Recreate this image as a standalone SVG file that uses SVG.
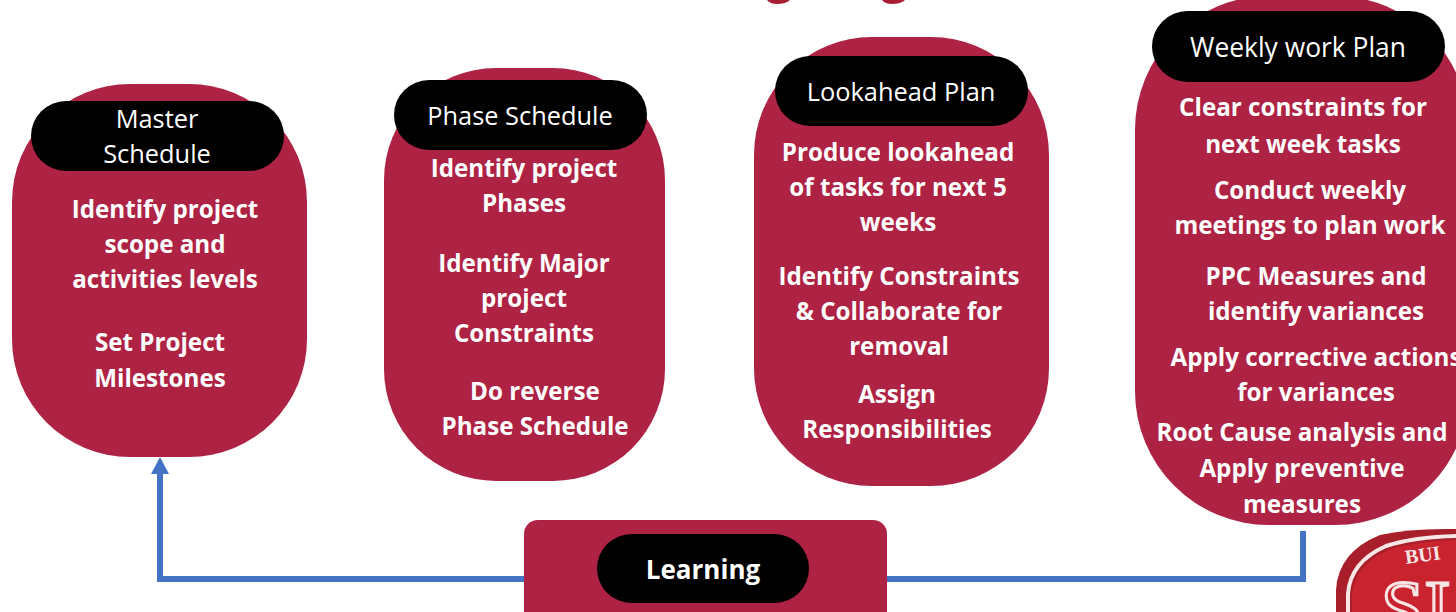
<svg xmlns="http://www.w3.org/2000/svg" width="1456" height="612" viewBox="0 0 1456 612">
<style>
.b{fill:#ae2244}
.p{fill:#000}
.t{font-family:"Open Sans","Noto Sans",sans-serif;font-size:24.2px;font-weight:700;fill:#fff;text-anchor:middle}
.h{font-family:"Open Sans","Noto Sans",sans-serif;font-size:25.4px;fill:#fff;text-anchor:middle}
.c{fill:none;stroke:#4472c4;stroke-width:6}
</style>
<rect width="1456" height="612" fill="#fff"/>
<g id="title-fragments" fill="#a81f35">
<path d="M767 0H790Q786 4 777 4Q770 4 767 0Z"/>
<path d="M882 0H905Q901 4 892 4Q885 4 882 0Z"/>
</g>
<g id="connectors">
<path class="c" d="M524 579H160V472"/>
<path d="M160 457L169 474H151Z" fill="#4472c4"/>
<path class="c" d="M887 579H1303V531"/>
</g>
<g id="master">
<rect class="b" x="12" y="84" width="295" height="373" rx="118"/>
<rect class="p" x="31" y="101" width="253" height="70" rx="35"/>
<text class="h" x="157" y="128">Master</text>
<text class="h" x="157" y="163">Schedule</text>
<text class="t" x="165" y="218">Identify project</text>
<text class="t" x="165" y="253">scope and</text>
<text class="t" x="165" y="288">activities levels</text>
<text class="t" x="160" y="351">Set Project</text>
<text class="t" x="160" y="387">Milestones</text>
</g>
<g id="phase">
<rect class="b" x="384" y="68" width="281" height="413" rx="112"/>
<rect class="p" x="394" y="80" width="253" height="70" rx="35"/>
<text class="h" x="520" y="125">Phase Schedule</text>
<text class="t" x="524" y="177">Identify project</text>
<text class="t" x="524" y="212">Phases</text>
<text class="t" x="524" y="272">Identify Major</text>
<text class="t" x="524" y="307">project</text>
<text class="t" x="524" y="342">Constraints</text>
<text class="t" x="535" y="400">Do reverse</text>
<text class="t" x="535" y="435">Phase Schedule</text>
</g>
<g id="lookahead">
<rect class="b" x="754" y="37" width="295" height="449" rx="118"/>
<rect class="p" x="775" y="56" width="253" height="70" rx="35"/>
<text class="h" x="901" y="101">Lookahead Plan</text>
<text class="t" x="898" y="161">Produce lookahead</text>
<text class="t" x="898" y="196">of tasks for next 5</text>
<text class="t" x="898" y="231">weeks</text>
<text class="t" x="899" y="285">Identify Constraints</text>
<text class="t" x="899" y="320">&amp; Collaborate for</text>
<text class="t" x="899" y="355">removal</text>
<text class="t" x="897" y="403">Assign</text>
<text class="t" x="897" y="438">Responsibilities</text>
</g>
<g id="weekly">
<rect class="b" x="1135" y="-4" width="334" height="529" rx="134"/>
<rect class="p" x="1152" y="11" width="293" height="71" rx="35.5"/>
<text class="h" x="1298" y="57" style="font-size:26.4px">Weekly work Plan</text>
<text class="t" x="1303" y="116">Clear constraints for</text>
<text class="t" x="1303" y="153">next week tasks</text>
<text class="t" x="1310" y="199">Conduct weekly</text>
<text class="t" x="1310" y="234">meetings to plan work</text>
<text class="t" x="1316" y="285">PPC Measures and</text>
<text class="t" x="1316" y="320">identify variances</text>
<text class="t" x="1316" y="366">Apply corrective actions</text>
<text class="t" x="1316" y="401">for variances</text>
<text class="t" x="1302" y="441">Root Cause analysis and</text>
<text class="t" x="1302" y="477">Apply preventive</text>
<text class="t" x="1302" y="513">measures</text>
</g>
<g id="learning">
<rect class="b" x="524" y="520" width="363" height="110" rx="14"/>
<rect class="p" x="597" y="534" width="212" height="69" rx="34.5"/>
<text class="t" x="703" y="579" style="font-size:26px">Learning</text>
</g>
<g id="logo">
<path d="M1336 612V590Q1338 552 1380 535Q1410 528 1456 529V612Z" fill="#a81e2a"/>
<path d="M1348 612V594Q1350 562 1386 546Q1414 537 1456 536" fill="none" stroke="#f8e6e6" stroke-width="4"/>
<path d="M1352 612V595Q1354 566 1388 550Q1416 541 1456 540V612Z" fill="#c8232f"/>
<text x="1406" y="564" font-family="Liberation Serif,serif" font-weight="700" font-size="20" fill="#f8e6e6" transform="rotate(-8 1406 564)">BUI</text>
<text x="1381" y="634" font-family="Liberation Serif,serif" font-size="78" fill="#c8232f" stroke="#f8e6e6" stroke-width="3">SI</text>
</g>
</svg>
